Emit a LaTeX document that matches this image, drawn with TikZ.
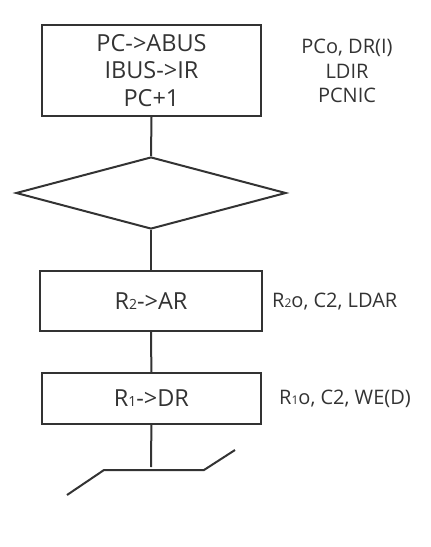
\documentclass[tikz,border=0pt]{standalone}
\usepackage{fontspec}
\setmainfont{Open Sans}
\usetikzlibrary{shapes.geometric}
\definecolor{ink}{HTML}{333333}
\newcommand{\subbig}[1]{{\fontsize{14}{14}\selectfont #1}}
\newcommand{\subsml}[1]{{\fontsize{12}{12}\selectfont #1}}
\begin{document}
\begin{tikzpicture}[x=1pt,y=-1pt,
  line/.style={draw=ink,line width=2pt},
  box/.style={line,rectangle,inner sep=0pt,text=ink,align=center},
  main/.style={font=\fontsize{23.5}{27.5}\selectfont},
  note/.style={font=\fontsize{20}{24.5}\selectfont,text=ink,align=center,inner sep=0pt}]
\useasboundingbox (0,0) rectangle (431,547);
\node[box,main,minimum width=219pt,minimum height=91pt] (b1) at (151.5,70.5) {PC->ABUS\\IBUS->IR\\PC+1};
\node[line,diamond,minimum width=270pt,minimum height=72pt,inner sep=0pt] (d) at (151,193) {};
\node[box,main,minimum width=222pt,minimum height=60pt] (b2) at (151,301) {R\subbig{2}->AR};
\node[box,main,minimum width=219pt,minimum height=51pt] (b3) at (151.4,398.5) {R\subbig{1}->DR};
\node[note] (n1) at (347,71) {PCo, DR(I)\\LDIR\\PCNIC};
\node[note,anchor=west] (n2) at (272,302) {R\subsml{2}o, C2, LDAR};
\node[note,anchor=west] (n3) at (279,399) {R\subsml{1}o, C2, WE(D)};
\coordinate (e) at (151,467);
\coordinate (bl) at (104,470);
\coordinate (br) at (204,470);
\coordinate (l0) at (67,495);
\coordinate (r0) at (235,450);
\draw[line] (b1.south) -- (d.north);
\draw[line] (d.south) -- (b2.north);
\draw[line] (b2.south) -- (b3.north);
\draw[line] (b3.south) -- (e);
\draw[line] (l0) -- (bl) -- (br) -- (r0);
\end{tikzpicture}
\end{document}
